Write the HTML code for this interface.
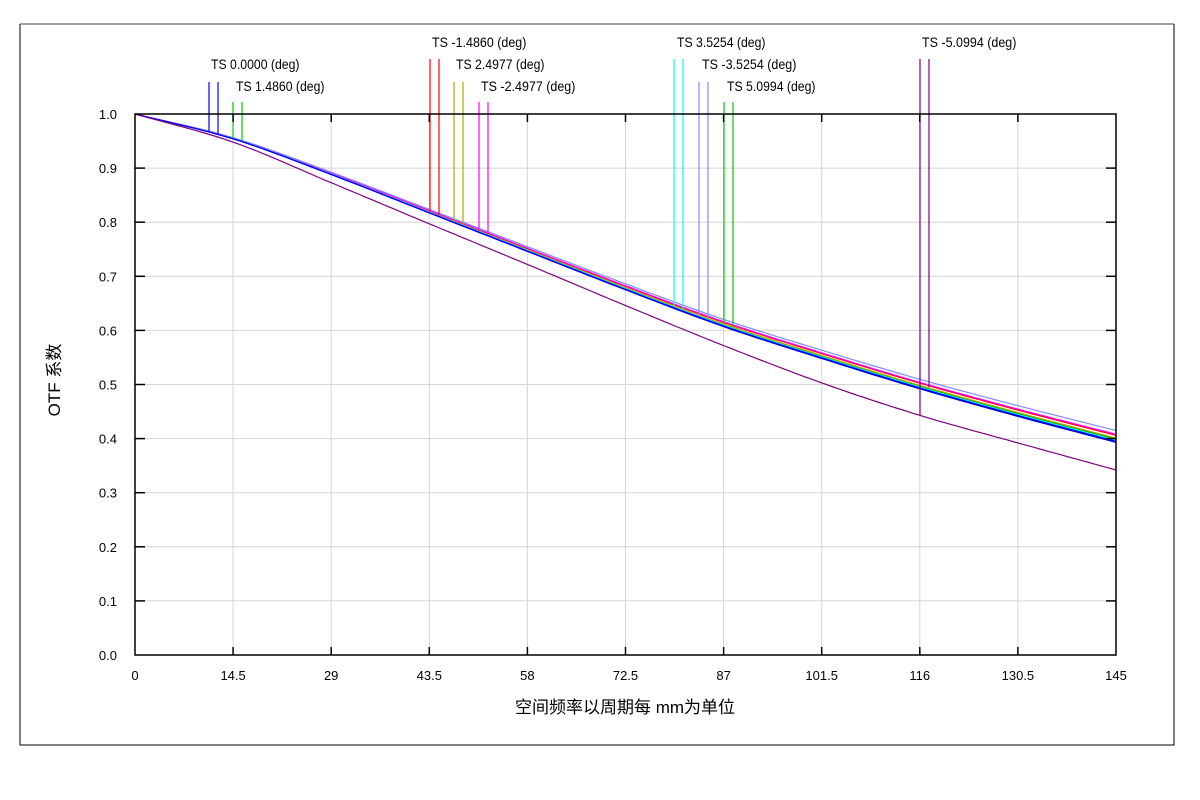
<!DOCTYPE html>
<html><head><meta charset="utf-8"><style>
body{margin:0;background:#fff;}
svg{display:block;font-family:"Liberation Sans","Noto Sans CJK SC",sans-serif;}
</style></head><body>
<svg id="s" width="1200" height="800" xmlns="http://www.w3.org/2000/svg">
<rect width="1200" height="800" fill="#fff"/>
<polyline points="20,24 20,745 1174,745 1174,24" fill="none" stroke="#000" stroke-width="1"/>
<line x1="20" y1="24" x2="1174" y2="24" stroke="#444"/>
<g id="grid" stroke="#d4d4d4" stroke-width="1"></g>
<g id="curves" fill="none" stroke-width="1.2"></g>
<g id="marks" stroke-width="1.2"></g>
<rect x="135" y="114" width="981" height="541" fill="none" stroke="#000" stroke-width="1.5"/>
<g id="ticks" stroke="#000" stroke-width="1.5"></g>
<g id="labels" font-size="13" fill="#000"></g>
<text x="60" y="380" font-size="17" transform="rotate(-90 60 380)" text-anchor="middle">OTF 系数</text>
<text x="625" y="713" font-size="17" text-anchor="middle">空间频率以周期每 mm为单位</text>
</svg>
<script>
var ns="http://www.w3.org/2000/svg";
function el(p,t,a,txt){var e=document.createElementNS(ns,t);for(var k in a)e.setAttribute(k,a[k]);if(txt!=null)e.textContent=txt;document.getElementById(p).appendChild(e);return e;}
function X(f){return 135+f*981/145;}function Y(v){return 655-v*541;}
for(var i=1;i<10;i++){el('grid','line',{x1:X(i*14.5),y1:114,x2:X(i*14.5),y2:655});}
for(var i=1;i<10;i++){el('grid','line',{x1:135,y1:Y(i/10),x2:1116,y2:Y(i/10)});}
for(var i=1;i<10;i++){el('ticks','line',{x1:X(i*14.5),y1:655,x2:X(i*14.5),y2:647});el('ticks','line',{x1:X(i*14.5),y1:114,x2:X(i*14.5),y2:122});
el('ticks','line',{x1:135,y1:Y(i/10),x2:145,y2:Y(i/10)});el('ticks','line',{x1:1116,y1:Y(i/10),x2:1106,y2:Y(i/10)});}
var xl=["0","14.5","29","43.5","58","72.5","87","101.5","116","130.5","145"];
for(var i=0;i<11;i++)el('labels','text',{x:X(i*14.5),y:680,'text-anchor':'middle'},xl[i]);
for(var i=0;i<11;i++)el('labels','text',{x:117,y:Y(i/10)+5,'text-anchor':'end'},(i/10).toFixed(1));
var base=[1,0.955,0.89,0.82,0.75,0.68,0.613,0.555,0.5,0.45,0.403];
var low=[1,0.948,0.873,0.797,0.722,0.646,0.572,0.503,0.443,0.392,0.342];
function val(a,f){var k=Math.min(9,Math.floor(f/14.5));var t=f/14.5-k;
var p0=a[Math.max(0,k-1)],p1=a[k],p2=a[k+1],p3=a[Math.min(10,k+2)];
if(k==0)p0=2*p1-p2;if(k==9)p3=2*p2-p1;
return 0.5*((2*p1)+(-p0+p2)*t+(2*p0-5*p1+4*p2-p3)*t*t+(-p0+3*p1-3*p2+p3)*t*t*t);}
var cs=[["#0a0",-0.004],["#f00",0.003],["#aa0",-0.002],["#f0f",0.005],["#0ff",-0.006],["#88f",0.012],["#00c",-0.01],["#00f",-0.008]];
cs.forEach(function(c){var p=[];for(var f=0;f<=145;f+=1){var v=val(base,f)+c[1]*f/145;p.push(X(f).toFixed(1)+","+Y(v).toFixed(1));}el('curves','polyline',{points:p.join(' '),stroke:c[0]});});
var p=[];for(var f=0;f<=145;f+=1){p.push(X(f).toFixed(1)+","+Y(val(low,f)).toFixed(1));}el('curves','polyline',{points:p.join(' '),stroke:"#800080"});
var mk=[[209,82,"#00f","TS 0.0000 (deg)",211,69,0],[233,102,"#0c0","TS 1.4860 (deg)",236,91,0],
[430,59,"#f00","TS -1.4860 (deg)",432,47,0],[454,82,"#aa0","TS 2.4977 (deg)",456,69,0],[479,102,"#f0f","TS -2.4977 (deg)",481,91,0],
[674,59,"#0ff","TS 3.5254 (deg)",677,47,0],[699,82,"#88f","TS -3.5254 (deg)",702,69,0],[724,102,"#0c0","TS 5.0994 (deg)",727,91,0],
[920,59,"#800080","TS -5.0994 (deg)",922,47,1]];
mk.forEach(function(m){[m[0],m[0]+9].forEach(function(x,j){var f=(x-135)*145/981;var v=m[6]?val(low,f):val(base,f);if(m[6]&&j==1)v=val(base,f);el('marks','line',{x1:x,y1:m[1],x2:x,y2:Y(v),stroke:m[2]});});
el('labels','text',{x:m[4],y:m[5],'font-size':'14',textLength:m[3].length*5.9,lengthAdjust:'spacingAndGlyphs'},m[3]);});
</script>
</body></html>
